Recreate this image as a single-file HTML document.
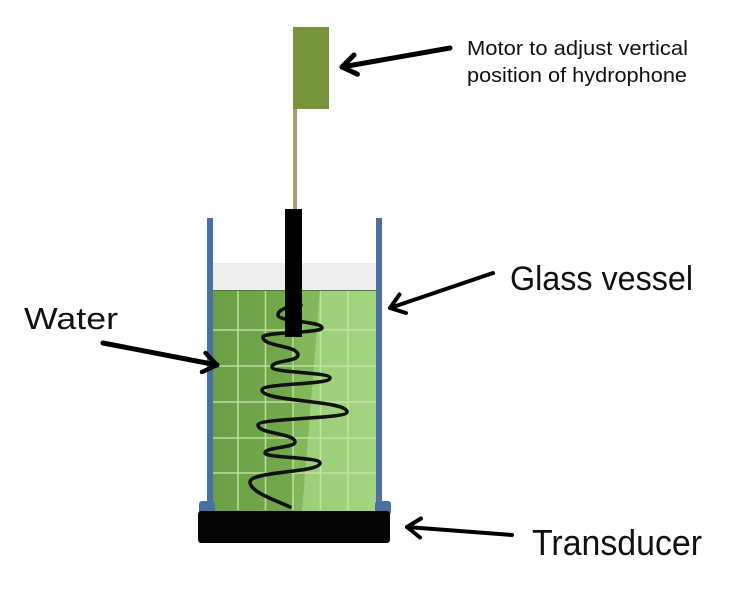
<!DOCTYPE html>
<html>
<head>
<meta charset="utf-8">
<style>
  html,body{margin:0;padding:0;background:#ffffff;}
  svg{display:block;}
  text{font-family:"Liberation Sans",sans-serif;fill:#111;}
</style>
</head>
<body>
<svg width="738" height="600" viewBox="0 0 738 600" xmlns="http://www.w3.org/2000/svg">
  <defs>
    <linearGradient id="gl" x1="0" y1="0" x2="1" y2="0">
      <stop offset="0" stop-color="#6a9f45"/>
      <stop offset="1" stop-color="#74aa4e"/>
    </linearGradient>
    <linearGradient id="gr" x1="0" y1="0" x2="1" y2="0">
      <stop offset="0" stop-color="#96c972"/>
      <stop offset="1" stop-color="#a3d480"/>
    </linearGradient>
  </defs>

  <!-- motor & rod -->
  <rect x="293" y="109" width="4" height="102" fill="#a99c6e"/>
  <rect x="293" y="27" width="36" height="82" fill="#77933c"/>

  <!-- gray air band -->
  <rect x="213" y="263" width="164" height="28" fill="#eeeeee"/>

  <!-- water -->
  <rect x="213" y="290" width="164" height="222" fill="url(#gr)"/>
  <polygon points="213,290 320,290 302,512 213,512" fill="#82b75b"/>
  <polygon points="213,290 296,290 292,512 213,512" fill="url(#gl)"/>
  <line x1="213" y1="290.5" x2="377" y2="290.5" stroke="#4f7a3a" stroke-width="1"/>

  <!-- grid -->
  <g stroke="#c6e6a6" stroke-width="1.5" opacity="0.9">
    <line x1="238" y1="291" x2="238" y2="510"/>
    <line x1="265.5" y1="291" x2="265.5" y2="510"/>
    <line x1="293" y1="291" x2="293" y2="510"/>
    <line x1="320.5" y1="291" x2="320.5" y2="510"/>
    <line x1="348" y1="291" x2="348" y2="510"/>
    <line x1="213" y1="330" x2="377" y2="330"/>
    <line x1="213" y1="366" x2="377" y2="366"/>
    <line x1="213" y1="402" x2="377" y2="402"/>
    <line x1="213" y1="438" x2="377" y2="438"/>
    <line x1="213" y1="473" x2="377" y2="473"/>
  </g>

  <!-- vessel walls -->
  <rect x="207" y="218" width="6" height="294" fill="#4a6fa2"/>
  <rect x="376" y="218" width="6" height="294" fill="#4a6fa2"/>
  <rect x="199" y="501" width="16" height="14" rx="3" fill="#4a6fa2"/>
  <rect x="375" y="501" width="16" height="14" rx="3" fill="#4a6fa2"/>

  <!-- transducer -->
  <rect x="198" y="511" width="192" height="32" rx="3" fill="#050505"/>

  <!-- wave -->
  <path d="M301,305 C292,305 278,309 278,315
           C278,322 322,321 322,328
           C322,333 263,332 263,337
           C263,347 298,345 298,355
           C298,362 272,360 272,367
           C272,373 330,372 330,378
           C330,385 262,383 262,390
           C262,402 347,400 347,412
           C347,419 258,418 258,425
           C258,434 295,433 295,442
           C295,448 265,447 265,453
           C265,458 320,457 320,463
           C320,473 250,471 250,482
           C250,492 275,500 290,507"
        fill="none" stroke="#111" stroke-width="3.6" stroke-linecap="round"/>

  <!-- hydrophone -->
  <rect x="285" y="209" width="17" height="128" fill="#000"/>

  <!-- arrows -->
  <g stroke="#000" fill="none" stroke-linecap="round" stroke-linejoin="round">
    <line x1="450" y1="48" x2="342" y2="67" stroke-width="5"/>
    <polyline points="357.5,74.3 342,67 354,55" stroke-width="5"/>

    <line x1="103" y1="343" x2="217" y2="365" stroke-width="5"/>
    <polyline points="205.5,353 217,365 202,372" stroke-width="4.5"/>

    <line x1="493" y1="273" x2="390" y2="308" stroke-width="4"/>
    <polyline points="406,313 390,308 399.5,294.5" stroke-width="4"/>

    <line x1="512" y1="535" x2="407" y2="527" stroke-width="4"/>
    <polyline points="420,537.5 407,527 421,518.5" stroke-width="4"/>
  </g>

  <!-- labels -->
  <text x="467" y="55" font-size="20" textLength="221" lengthAdjust="spacingAndGlyphs">Motor to adjust vertical</text>
  <text x="467" y="82" font-size="20" textLength="220" lengthAdjust="spacingAndGlyphs">position of hydrophone</text>
  <text x="24" y="329" font-size="31" textLength="94" lengthAdjust="spacingAndGlyphs">Water</text>
  <text x="510" y="290" font-size="34" textLength="183" lengthAdjust="spacingAndGlyphs">Glass vessel</text>
  <text x="532" y="555" font-size="36" textLength="170" lengthAdjust="spacingAndGlyphs">Transducer</text>
</svg>
</body>
</html>
